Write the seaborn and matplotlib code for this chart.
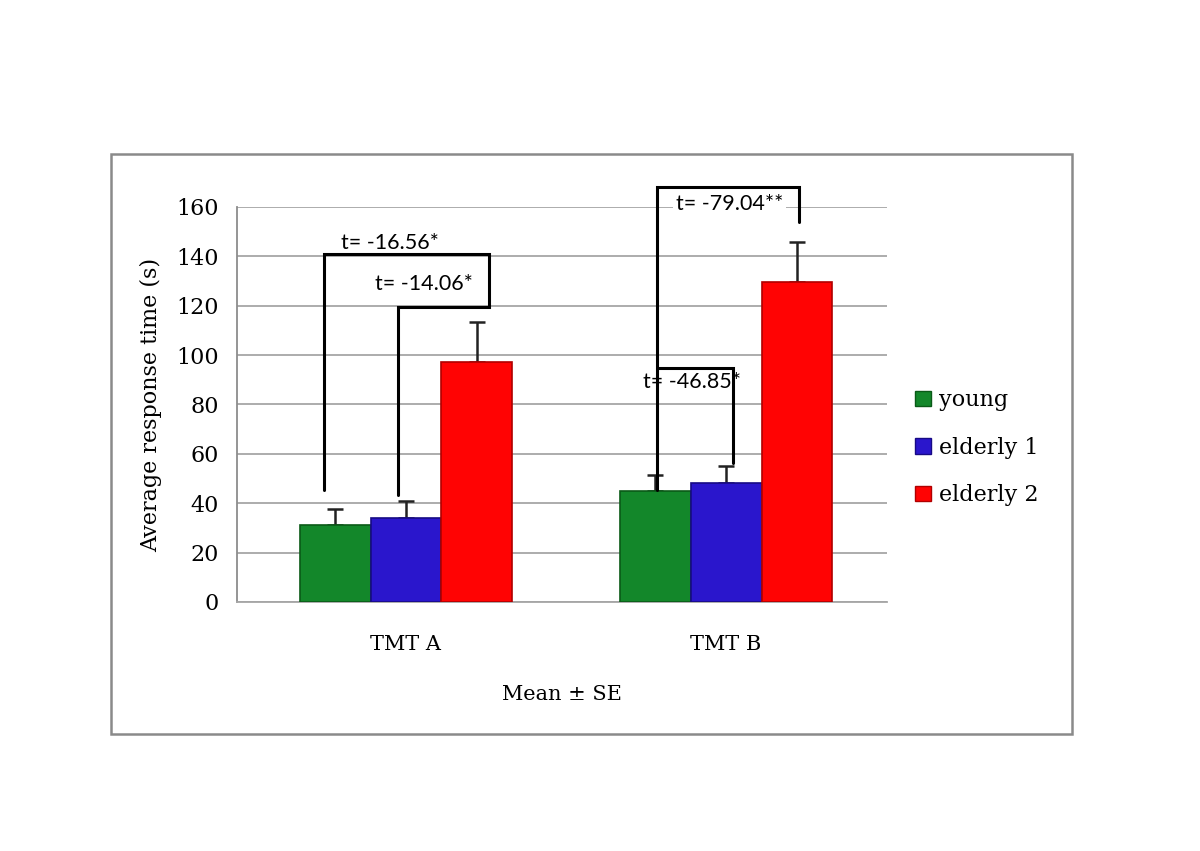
import pandas as pd
import matplotlib
matplotlib.use("Agg")
import matplotlib.pyplot as plt
import seaborn as sns
from matplotlib.patches import Rectangle, Patch

# --- data ---
tests = ["TMT A", "TMT B"]
groups = ["young", "elderly 1", "elderly 2"]
young_mean = [31.2, 44.8]
elderly1_mean = [33.9, 48.1]
elderly2_mean = [97.4, 129.7]
young_se = [6.4, 6.6]
elderly1_se = [7.1, 7.0]
elderly2_se = [16.0, 16.2]

# t-test brackets: (x points, y points) in data units (category index + offset)
brackets = [
    ([-0.255, -0.255, 0.26, 0.26, -0.025, -0.025], [45.4, 141.0, 141.0, 119.5, 119.5, 43.3]),
    ([0.785, 0.785, 1.228, 1.228], [45.4, 168.0, 168.0, 153.9]),
    ([0.785, 1.022, 1.022], [94.8, 94.8, 56.3]),
]
t_labels = ["t= -16.56*", "t= -14.06*", "t= -79.04**", "t= -46.85*"]
t_pos = [(-0.05, 145.3), (0.055, 128.8), (1.01, 161.4), (0.893, 89.0)]

colors = ["#13872a", "#2a16cc", "#ff0303"]
edges = ["#0a5a17", "#170a85", "#b00000"]

df = pd.DataFrame({
    "test": tests * 3,
    "group": [g for g in groups for _ in tests],
    "mean": young_mean + elderly1_mean + elderly2_mean,
})

sns.set_style("white")
plt.rcParams["font.family"] = ["DejaVu Serif"]
plt.rcParams["text.color"] = "black"
plt.rcParams["axes.labelcolor"] = "black"
plt.rcParams["xtick.color"] = "black"
plt.rcParams["ytick.color"] = "black"

fig = plt.figure(figsize=(12, 8.51), dpi=100)
ax = fig.add_axes([0.1975, 0.2926, 0.5417, 0.4642])

sns.barplot(data=df, x="test", y="mean", hue="group", palette=colors,
            width=0.665, saturation=1, ax=ax, legend=False, zorder=3)

ax.set_xlim(-0.528, 1.503)
ax.set_ylim(0, 160)
ax.set_yticks(range(0, 161, 20))

# bevel-ish edges and upward error bars
for cont, ses, ec in zip(ax.containers, [young_se, elderly1_se, elderly2_se], edges):
    for bar in cont:
        bar.set_edgecolor(ec)
        bar.set_linewidth(1.2)
    xs = [b.get_x() + b.get_width() / 2 for b in cont]
    ys = [b.get_height() for b in cont]
    ax.errorbar(xs, ys, yerr=[[0] * len(ses), ses], fmt="none", ecolor="#222222",
                elinewidth=1.8, capsize=6, capthick=1.8, zorder=2)

# grid and axes styling
ax.yaxis.grid(True, color="#a6a6a6", linewidth=1.3, zorder=0)
ax.set_axisbelow(True)
for s in ["top", "right"]:
    ax.spines[s].set_visible(False)
ax.spines["left"].set_color("#8c8c8c")
ax.spines["bottom"].set_color("#a6a6a6")
ax.spines["left"].set_linewidth(1.3)
ax.spines["bottom"].set_linewidth(1.3)
ax.tick_params(axis="y", length=5, color="#8c8c8c", width=1.3, labelsize=16, pad=8,
               labelcolor="black")
ax.tick_params(axis="x", length=0, labelsize=15, pad=24, labelcolor="black")

ax.set_xlabel("Mean ± SE", fontsize=15, labelpad=22)
ax.set_ylabel("Average response time (s)", fontsize=16, labelpad=10)

# brackets and t labels
for xs, ys in brackets:
    ax.plot(xs, ys, color="black", linewidth=2.2, zorder=6, clip_on=False,
            solid_joinstyle="miter")
for lab, (tx, ty) in zip(t_labels, t_pos):
    ax.text(tx, ty, lab, ha="center", va="center", fontsize=15.5, color="black",
            family=["Lato", "DejaVu Sans"], zorder=5,
            bbox=dict(facecolor="white", edgecolor="none", pad=2))

# legend
handles = [Patch(facecolor=c, edgecolor=e) for c, e in zip(colors, edges)]
fig.legend(handles, groups, loc="center left", bbox_to_anchor=(0.746, 0.474),
           frameon=False, fontsize=16, handlelength=0.7, handleheight=0.7,
           handletextpad=0.35, labelspacing=1.15)

# outer frame
fig.patches.append(Rectangle((0.0925, 0.1375), 0.801, 0.6815, transform=fig.transFigure,
                             fill=False, edgecolor="#8a8a8a", linewidth=1.8))

fig.savefig("out.png", dpi=100, facecolor="white")
